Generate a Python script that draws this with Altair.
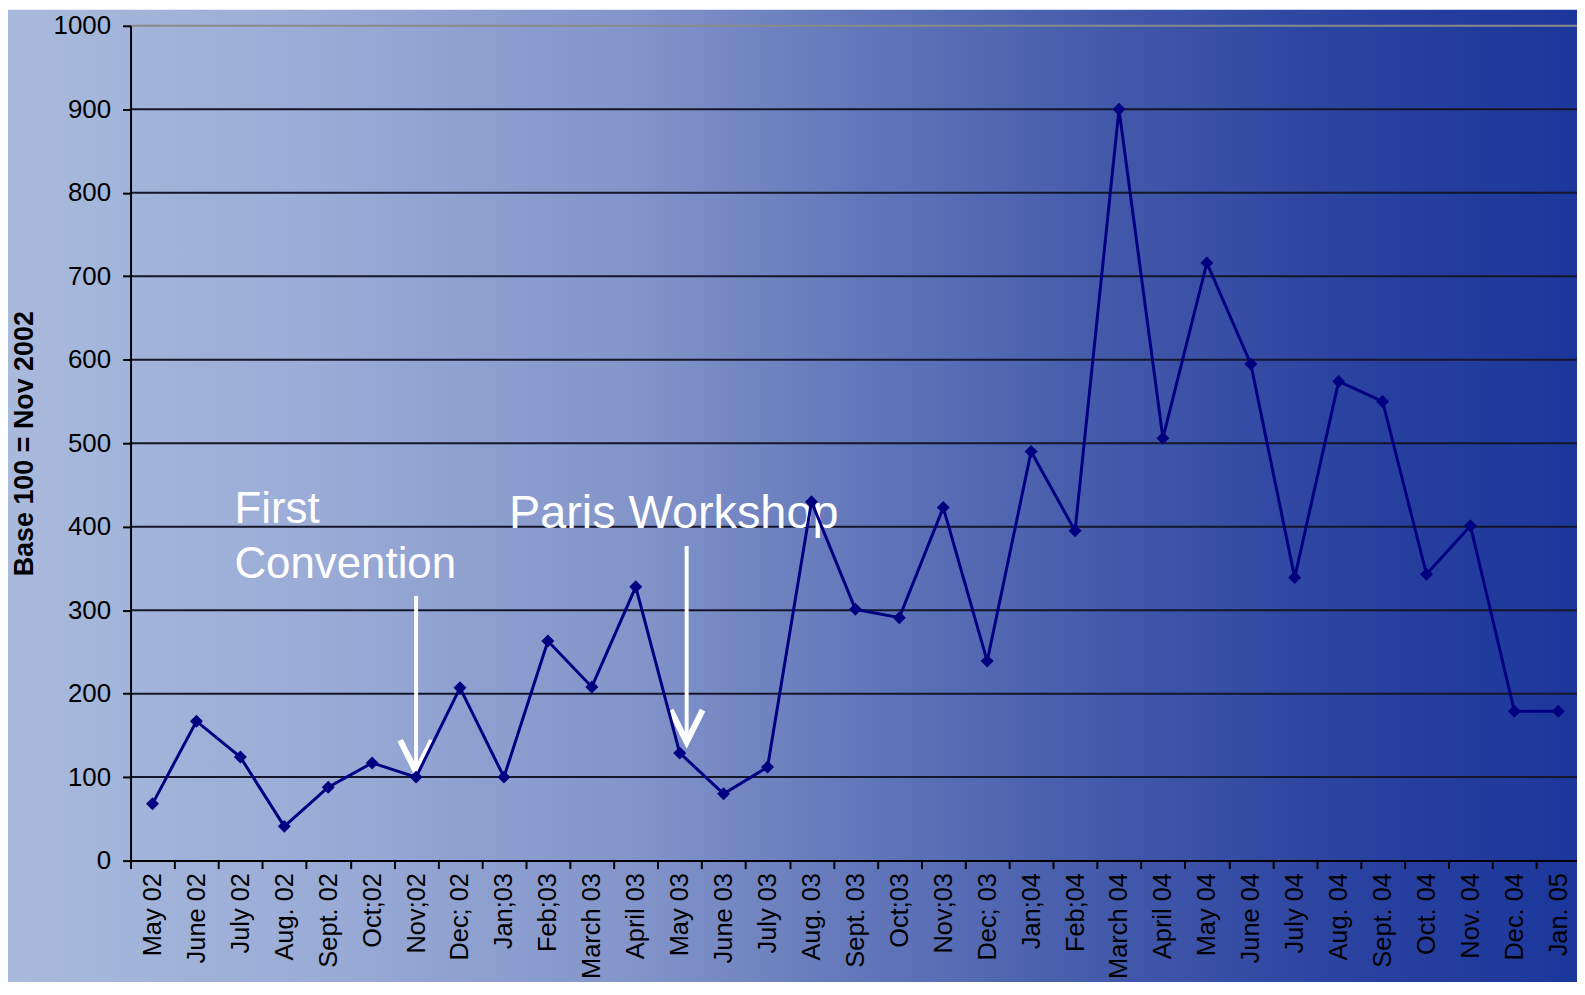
import altair as alt
import pandas as pd

# ---------------- data ----------------
months = ["May 02", "June 02", "July 02", "Aug. 02", "Sept. 02", "Oct;02", "Nov;02",
          "Dec; 02", "Jan;03", "Feb;03", "March 03", "April 03", "May 03", "June 03",
          "July 03", "Aug. 03", "Sept. 03", "Oct;03", "Nov;03", "Dec; 03", "Jan;04",
          "Feb;04", "March 04", "April 04", "May 04", "June 04", "July 04", "Aug. 04",
          "Sept. 04", "Oct. 04", "Nov. 04", "Dec. 04", "Jan. 05"]
index_values = [68, 167, 124, 41, 88, 117, 100, 207, 100, 263, 208, 328, 129, 80,
                112, 430, 301, 291, 423, 239, 490, 395, 900, 506, 716, 595, 339, 574,
                550, 343, 401, 179, 179]

y_ticks = [0, 100, 200, 300, 400, 500, 600, 700, 800, 900, 1000]
grid_dark = [100, 200, 300, 400, 500, 600, 700, 800, 900]
grid_top = [1000]

# annotation texts
ann1_text = ["First", "Convention"]
ann1_month = ["July 02", "July 02"]
ann1_value = [405, 338]
ann2_text = ["Paris Workshop"]
ann2_month = ["Jan;03"]
ann2_value = [399]

# annotation arrows
arrow_month = ["Nov;02", "May 03"]
arrow_top = [317, 377]
arrow_tip = [106, 142]

# ---------------- layout ----------------
PAD_L, PAD_T, PAD_B = 123, 16, 120
W = 1575 - PAD_L
H = 838
STEP = 44.1
FONT = "Liberation Sans"
NAVY = "#000080"

df = pd.DataFrame({"month": months, "value": index_values})
df_grid = pd.DataFrame({"v": grid_dark})
df_top = pd.DataFrame({"v": grid_top})
df_t1 = pd.DataFrame({"t": ann1_text, "month": ann1_month, "value": ann1_value})
df_t2 = pd.DataFrame({"t": ann2_text, "month": ann2_month, "value": ann2_value})
df_arrow = pd.DataFrame({"month": arrow_month, "top": arrow_top, "tip": arrow_tip})

xscale = alt.Scale(type="band", domain=months, range=[0, STEP * len(months)],
                   paddingInner=0, paddingOuter=0)
yscale = alt.Scale(domain=[0, 1000], nice=False, zero=True)

x_enc = alt.X("month:N", scale=xscale, sort=months,
              axis=alt.Axis(title=None, labelAngle=-90, labelFont=FONT, labelFontSize=25.5,
                            labelColor="black", labelPadding=4, tickSize=8, tickColor="black",
                            tickWidth=2, domainColor="black", domainWidth=2, grid=False,
                            tickBand="extent", labelOverlap=False, zindex=1))
y_enc = alt.Y("value:Q", scale=yscale,
              axis=alt.Axis(values=y_ticks, format="d", title="Base 100 = Nov 2002",
                            titleFont=FONT, titleFontSize=27, titleFontWeight="bold",
                            titleColor="black", titlePadding=15, labelFont=FONT,
                            labelFontSize=26, labelColor="black", labelPadding=12,
                            tickSize=8, tickColor="black", tickWidth=2, domainColor="black",
                            domainWidth=2, grid=False, zindex=1))

gradient = alt.Gradient(
    gradient="linear", x1=0, x2=1, y1=0, y2=0,
    stops=[alt.GradientStop(color="#a9badd", offset=0.0),
           alt.GradientStop(color="#9aabd6", offset=0.2),
           alt.GradientStop(color="#8294c9", offset=0.4),
           alt.GradientStop(color="#6075b9", offset=0.55),
           alt.GradientStop(color="#4259aa", offset=0.7),
           alt.GradientStop(color="#2a42a0", offset=0.85),
           alt.GradientStop(color="#1b369b", offset=1.0)])

bg = alt.Chart(pd.DataFrame({"a": [0]})).mark_rect(fill=gradient, stroke=None).encode(
    x=alt.value(-PAD_L), x2=alt.value(W + 10), y=alt.value(-PAD_T), y2=alt.value(H + PAD_B + 10))

grid = alt.Chart(df_grid).mark_rule(color="#14162a", strokeWidth=2).encode(
    y=alt.Y("v:Q", scale=yscale), x=alt.value(0), x2=alt.value(W + 10))
grid_t = alt.Chart(df_top).mark_rule(color="#8a8a8a", strokeWidth=2).encode(
    y=alt.Y("v:Q", scale=yscale), x=alt.value(0), x2=alt.value(W + 10))

texts1 = alt.Chart(df_t1).mark_text(color="white", font=FONT, align="left", fontSize=44,
                                    baseline="alphabetic", dx=-6).encode(
    x=alt.X("month:N", scale=xscale, sort=months),
    y=alt.Y("value:Q", scale=yscale), text="t:N")
texts2 = alt.Chart(df_t2).mark_text(color="white", font=FONT, align="left", fontSize=47,
                                    baseline="alphabetic", dx=5).encode(
    x=alt.X("month:N", scale=xscale, sort=months),
    y=alt.Y("value:Q", scale=yscale), text="t:N")

arrow_layers = []
for i, off in enumerate([0, 7]):
    sub = df_arrow.iloc[[i]]
    shaft = alt.Chart(sub).mark_rule(color="white", strokeWidth=4, xOffset=off).encode(
        x=alt.X("month:N", scale=xscale, sort=months),
        y=alt.Y("top:Q", scale=yscale), y2="tip:Q")
    head = alt.Chart(sub).mark_point(shape="M -0.5 -1 L 0 0 L 0.5 -1", filled=False,
                                     stroke="white", strokeWidth=6, strokeJoin="miter",
                                     size=4096, opacity=1, xOffset=off).encode(
        x=alt.X("month:N", scale=xscale, sort=months),
        y=alt.Y("tip:Q", scale=yscale))
    arrow_layers += [shaft, head]

line = alt.Chart(df).mark_line(color=NAVY, strokeWidth=3).encode(x=x_enc, y=y_enc)
pts = alt.Chart(df).mark_point(shape="diamond", filled=True, color=NAVY, size=170,
                               opacity=1).encode(
    x=alt.X("month:N", scale=xscale, sort=months), y=alt.Y("value:Q", scale=yscale))

chart = alt.layer(bg, grid, grid_t, texts1, texts2, *arrow_layers, line, pts).properties(
    width=W, height=H,
    autosize=alt.AutoSizeParams(type="none"),
    padding={"left": PAD_L, "top": PAD_T, "right": 0, "bottom": PAD_B},
).configure_view(stroke=None)

chart.save("out.html", embed_options={"renderer": "svg", "actions": False})
